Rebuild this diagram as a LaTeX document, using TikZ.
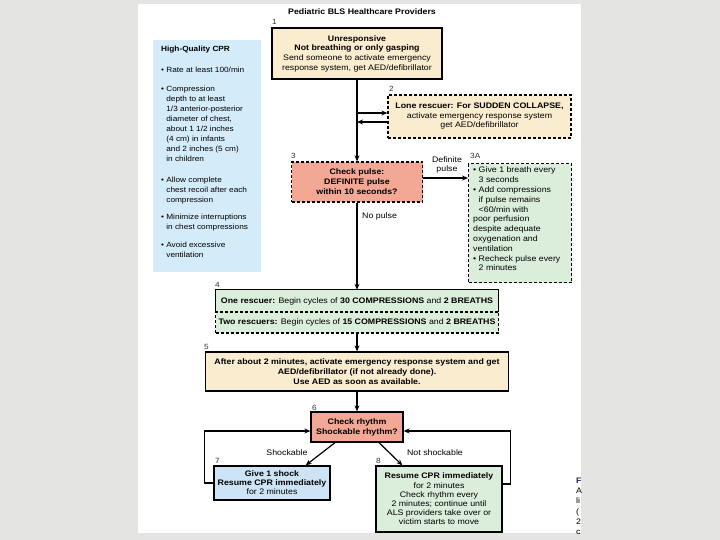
\documentclass[tikz,border=0pt]{standalone}
\usepackage{fontspec}
\setmainfont[FakeStretch=1.1]{Liberation Sans}
\usetikzlibrary{arrows.meta,calc}
\definecolor{bgray}{RGB}{228,228,226}
\definecolor{beige}{RGB}{250,236,206}
\definecolor{salmon}{RGB}{243,168,150}
\definecolor{mint}{RGB}{219,238,220}
\definecolor{lblue}{RGB}{212,235,249}
\definecolor{bblue}{RGB}{205,228,246}
\definecolor{fpurple}{RGB}{60,30,90}
\begin{document}
\begin{tikzpicture}[x=1pt,y=-1pt,
  box/.style={draw=black, line width=1.3pt, inner sep=0pt, align=center, font=\fontsize{8}{9.7}\selectfont},
  dbox/.style={box, dash pattern=on 3pt off 2pt},
  arr/.style={line width=1.5pt, -{Stealth[length=6pt,width=5pt]}},
  tarr/.style={line width=1.2pt, -{Stealth[length=6pt,width=5pt]}},
  num/.style={inner sep=0pt, anchor=base west, text=black!80, font=\fontsize{7.5}{8}\selectfont},
  lbl/.style={inner sep=0pt, align=center, font=\fontsize{8}{9.7}\selectfont},
]
\useasboundingbox (0,0) rectangle (720,540);
\fill[bgray] (0,0) rectangle (720,540);
\fill[white] (138,4) rectangle (581,533);

% cut-off text at right edge
\begin{scope}
\clip (570,470) rectangle (581,536);
\node[anchor=base west, inner sep=0, text=fpurple, font=\bfseries\fontsize{8}{8}\selectfont] (c1) at (576,483) {F};
\node[anchor=base west, inner sep=0, font=\fontsize{8}{8}\selectfont] (c2) at (576,493) {A};
\node[anchor=base west, inner sep=0, font=\fontsize{8}{8}\selectfont] (c3) at (576,503) {li};
\node[anchor=base west, inner sep=0, font=\fontsize{8}{8}\selectfont] (c4) at (576,514) {(};
\node[anchor=base west, inner sep=0, font=\fontsize{8}{8}\selectfont] (c5) at (576,524) {2};
\node[anchor=base west, inner sep=0, font=\fontsize{8}{8}\selectfont] (c6) at (576,534) {c};
\end{scope}

% title
\node[inner sep=0, font=\bfseries\fontsize{8}{9}\selectfont] (title) at (362,12) {Pediatric BLS Healthcare Providers};

% high-quality CPR box
\node[fill=lblue, minimum width=108pt, minimum height=232pt, inner sep=0, anchor=north west] (hq) at (153,40) {};
\node[anchor=north west, inner sep=0, align=left, font=\fontsize{7.5}{10}\selectfont] (hqt) at (161,46) {%
\textbf{High-Quality CPR}\\[11pt]
• Rate at least 100/min\\[9pt]
• Compression\\
\phantom{• }depth to at least\\
\phantom{• }1/3 anterior-posterior\\
\phantom{• }diameter of chest,\\
\phantom{• }about 1 1/2 inches\\
\phantom{• }(4 cm) in infants\\
\phantom{• }and 2 inches (5 cm)\\
\phantom{• }in children\\[11pt]
• Allow complete\\
\phantom{• }chest recoil after each\\
\phantom{• }compression\\[7pt]
• Minimize interruptions\\
\phantom{• }in chest compressions\\[8pt]
• Avoid excessive\\
\phantom{• }ventilation};

% box 1
\node[box, fill=beige, minimum width=170pt, minimum height=51pt] (b1) at (357,53.5)
 {\textbf{Unresponsive}\\\textbf{Not breathing or only gasping}\\Send someone to activate emergency\\response system, get AED/defibrillator};
\node[num] (n1) at (272,25) {1};

% box 2
\node[dbox, fill=beige, minimum width=183pt, minimum height=43pt, font=\fontsize{8}{9.5}\selectfont] (b2) at (479.5,116.5)
 {\textbf{Lone rescuer: For SUDDEN COLLAPSE,}\\activate emergency response system\\get AED/defibrillator};
\node[num] (n2) at (389,92) {2};

% box 3
\node[dbox, fill=salmon, minimum width=131pt, minimum height=40pt, font=\bfseries\fontsize{8}{10}\selectfont] (b3) at (357,182)
 {Check pulse:\\DEFINITE pulse\\within 10 seconds?};
\node[num] (n3) at (291,159) {3};

% box 3A
\node[dbox, fill=mint, minimum width=103pt, minimum height=119pt, anchor=north west] (b3a) at (468,163) {};
\node[anchor=north west, inner sep=0, align=left, font=\fontsize{8}{9.8}\selectfont] (b3at) at (473,167) {%
• Give 1 breath every\\
\phantom{• }3 seconds\\
• Add compressions\\
\phantom{• }if pulse remains\\
\phantom{• }<60/min with\\
poor perfusion\\
despite adequate\\
oxygenation and\\
ventilation\\
• Recheck pulse every\\
\phantom{• }2 minutes};
\node[num] (n3a) at (470,159) {3A};

% box 4
\node[fill=mint, minimum width=283pt, minimum height=22pt, inner sep=0, font=\fontsize{8}{9.7}\selectfont] (b4a) at (357,301)
 {\textbf{One rescuer:} Begin cycles of \textbf{30 COMPRESSIONS} and \textbf{2 BREATHS}};
\node[dbox, fill=mint, minimum width=283pt, minimum height=21pt] (b4b) at (357,322.5)
 {\textbf{Two rescuers:} Begin cycles of \textbf{15 COMPRESSIONS} and \textbf{2 BREATHS}};
\draw[line width=1.3pt] (b4a.south west) -- (b4a.north west) -- (b4a.north east) -- (b4a.south east);
\node[num] (n4) at (215,287) {4};

% box 5
\node[box, fill=beige, minimum width=303pt, minimum height=39pt, font=\bfseries\fontsize{8}{10}\selectfont] (b5) at (357,371.5)
 {After about 2 minutes, activate emergency response system and get\\AED/defibrillator (if not already done).\\Use AED as soon as available.};
\node[num] (n5) at (204,349) {5};

% box 6
\node[box, fill=salmon, minimum width=92pt, minimum height=30pt, font=\bfseries\fontsize{8}{10}\selectfont] (b6) at (357,427)
 {Check rhythm\\Shockable rhythm?};
\node[num] (n6) at (312,410) {6};

% box 7
\node[box, fill=bblue, minimum width=116pt, minimum height=34pt, font=\fontsize{8}{9}\selectfont] (b7) at (272,483)
 {\textbf{Give 1 shock}\\\textbf{Resume CPR immediately}\\for 2 minutes};
\node[num] (n7) at (215,463) {7};

% box 8
\node[box, fill=mint, minimum width=126pt, minimum height=66pt, font=\fontsize{8}{9.2}\selectfont] (b8) at (439,499)
 {\textbf{Resume CPR immediately}\\for 2 minutes\\Check rhythm every\\2 minutes; continue until\\ALS providers take over or\\victim starts to move};
\node[num] (n8) at (376,463) {8};

% connectors
\coordinate (j1) at (357,113);
\coordinate (j2) at (357,122);
\draw[arr] (b1.south) -- (b3.north);
\draw[tarr] (j1) -- (j1 -| b2.west);
\draw[tarr] (j2 -| b2.west) -- (j2);
\draw[arr] ($(b3.east)+(0,-4)$) -- ($(b3.east -| b3a.west)+(0,-4)$);
\draw[arr] (b3.south) -- (b4a.north);
\draw[arr] (b4b.south) -- (b5.north);
\draw[arr] (b5.south) -- (b6.north);
\draw[tarr] ($(b6.south)+(-22,0)$) -- ($(b7.north east)+(-25,0)$);
\draw[tarr] ($(b6.south)+(22,0)$) -- ($(b8.north west)+(27,0)$);
\draw[arr] (b7.west) -- ++(-9,0) |- ($(b6.west)+(0,4)$);
\draw[arr] ($(b8.east)+(0,-15)$) -- ++(8,0) |- ($(b6.east)+(0,4)$);

% labels
\node[lbl, anchor=west] (lnp) at (362,216) {No pulse};
\node[lbl, font=\fontsize{8}{9.5}\selectfont] (ldp) at (447,165) {Definite\\pulse};
\node[lbl] (lsh) at (287,453) {Shockable};
\node[lbl] (lns) at (435,453) {Not shockable};
\end{tikzpicture}
\end{document}
